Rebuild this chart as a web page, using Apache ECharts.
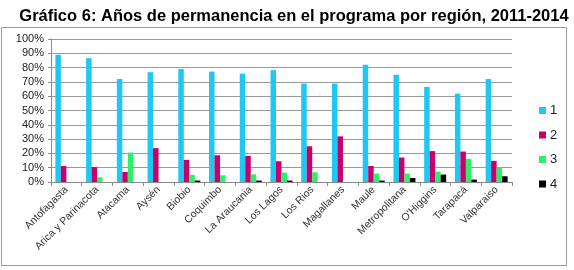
<!DOCTYPE html>
<html>
<head>
<meta charset="utf-8">
<script src="https://cdn.jsdelivr.net/npm/echarts@6/dist/echarts.min.js"></script>
<style>
    html, body {margin: 0; padding: 0; background: #fff;}
    #chart {width: 574px; height: 270px;}
</style>
</head>
<body>
<div id="chart"></div>
<script>
var regiones = ["Antofagasta", "Arica y Parinacota", "Atacama", "Aysén", "Biobio", "Coquimbo", "La Araucania",
    "Los Lagos", "Los Rios", "Magallanes", "Maule", "Metropolitana", "O'Higgins", "Tarapacá", "Valparaiso"];
var anios_1 = [89, 86.6, 72, 76.8, 79, 77.2, 75.8, 78.2, 68.8, 68.8, 82, 75, 66.5, 61.8, 72];
var anios_2 = [11.2, 10.5, 7, 23.7, 15.5, 18.7, 18.3, 14.5, 25, 31.9, 11.2, 17.1, 21.6, 21.3, 14.8];
var anios_3 = [0, 3.3, 20.6, 0, 5, 4.7, 5.4, 6.6, 6.8, 0, 5.9, 5.9, 7.3, 16.2, 10.3];
var anios_4 = [0, 0, 0, 0, 1, 0, 1, 1, 0, 0, 1, 2.8, 5.2, 1.7, 4];
var series_names = ["1", "2", "3", "4"];
var series_colors = ["#1ec8f2", "#c8006a", "#2cf06a", "#000000"];

var CHART = {
    font: "'Liberation Sans', Arial, sans-serif",
    init: function(){
        var _this = this;
        var myChart = echarts.init(document.getElementById("chart"));
        myChart.setOption(_this.init_option([anios_1, anios_2, anios_3, anios_4]));
    },
    init_series: function(data_list){
        var series = [];
        data_list.forEach(function(data, i){
            series.push({
                name: series_names[i],
                type: 'bar',
                barWidth: 5.5,
                barGap: '0%',
                itemStyle: {color: series_colors[i]},
                data: data
            });
        });
        return series;
    },
    init_option: function(data_list){
        var _this = this;
        return {
            animation: false,
            title: {
                text: "Gráfico 6: Años de permanencia en el programa por región, 2011-2014",
                left: 289,
                textAlign: "center",
                top: 3,
                textStyle: {fontFamily: _this.font, fontSize: 16.5, fontWeight: "bold", color: "#000"}
            },
            graphic: [{
                type: 'rect',
                shape: {x: 1.5, y: 27.5, width: 565, height: 238},
                style: {fill: null, stroke: "#9a9a9a", lineWidth: 1}
            }],
            legend: {
                orient: 'vertical',
                left: 534,
                top: 99,
                itemWidth: 7,
                itemHeight: 7,
                itemGap: 11.5,
                icon: 'rect',
                data: series_names,
                textStyle: {fontFamily: _this.font, fontSize: 13, color: "#222", padding: [0, 0, 0, -1]}
            },
            grid: {left: 51, right: 62, top: 39, bottom: 88},
            xAxis: [{
                type: 'category',
                data: regiones,
                axisLine: {lineStyle: {color: "#8a8a8a"}},
                axisTick: {show: true, length: 4, lineStyle: {color: "#8a8a8a"}},
                axisLabel: {
                    interval: 0,
                    rotate: 45,
                    margin: 6,
                    fontFamily: _this.font,
                    fontSize: 10.5,
                    color: "#333"
                }
            }],
            yAxis: [{
                type: 'value',
                min: 0,
                max: 100,
                interval: 10,
                axisLine: {show: true, lineStyle: {color: "#8a8a8a"}},
                axisTick: {show: true, length: 3, lineStyle: {color: "#8a8a8a"}},
                splitLine: {lineStyle: {color: "#9a9a9a"}},
                axisLabel: {
                    formatter: '{value}%',
                    margin: 7,
                    fontFamily: _this.font,
                    fontSize: 11,
                    color: "#222"
                }
            }],
            series: _this.init_series(data_list)
        };
    }
};

CHART.init();
</script>
</body>
</html>
